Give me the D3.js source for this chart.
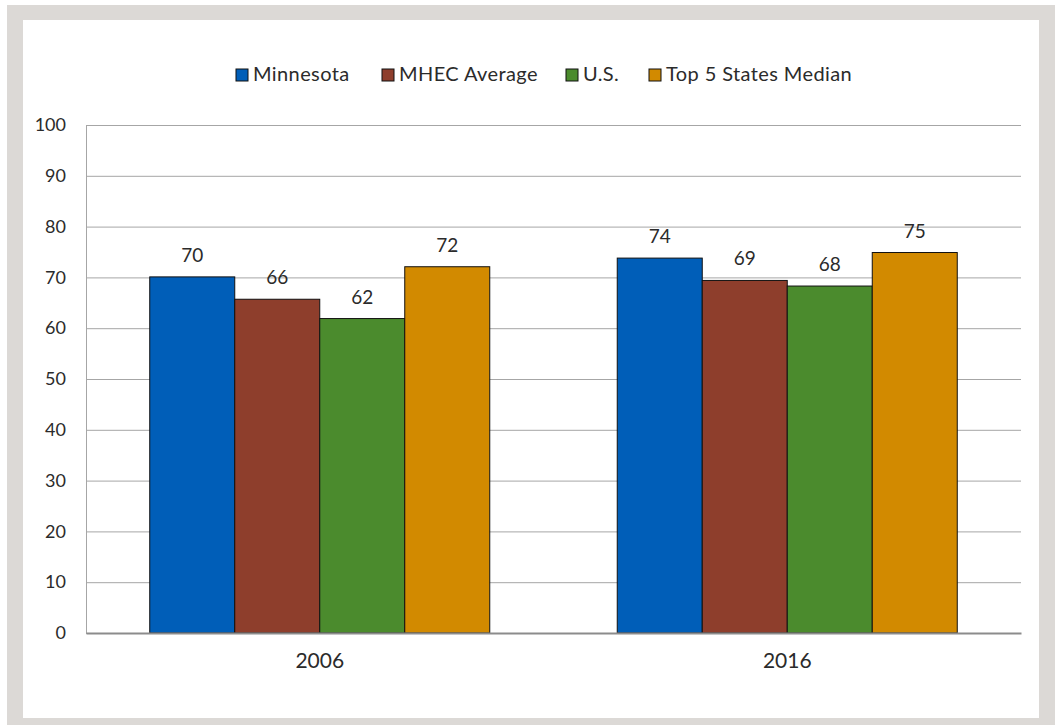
<!DOCTYPE html>
<html><head><meta charset="utf-8">
<script src="https://cdn.jsdelivr.net/npm/d3@7"></script>
<style>html,body{margin:0;padding:0;background:#fff;}svg{display:block;}</style>
</head><body>
<svg id="chart" width="1062" height="725"></svg>
<script>
const categories = ["2006", "2016"];
const seriesNames = ["Minnesota", "MHEC Average", "U.S.", "Top 5 States Median"];
const minnesota = [70.1, 73.8];
const mhecAverage = [65.7, 69.4];
const us = [61.9, 68.3];
const top5Median = [72.1, 74.9];
const valueLabels = [["70", "74"], ["66", "69"], ["62", "68"], ["72", "75"]];
const yTicks = [0, 10, 20, 30, 40, 50, 60, 70, 80, 90, 100];
const colors = ["#005EB8", "#8E3E2C", "#4B8B2D", "#D28A00"];

(function () {
const seriesValues = [minnesota, mhecAverage, us, top5Median];
const svg = d3.select("#chart");
const font = "Lato, 'Open Sans', sans-serif";
const textColor = "#2b2b2b";

// frame
svg.append("rect").attr("x", 7).attr("y", 5).attr("width", 1048).attr("height", 720).attr("fill", "#dcd9d6");
svg.append("rect").attr("x", 23).attr("y", 20).attr("width", 1016).attr("height", 698).attr("fill", "#fff");

const pLeft = 86, pRight = 1021, pTop = 125, pBottom = 633;
const y = d3.scaleLinear().domain([0, 100]).range([pBottom, pTop]);
const x0 = d3.scaleBand().domain(categories).range([pLeft, pRight]).padding(0);
const gap = x0.bandwidth() * 0.2727;
const x1 = d3.scaleBand().domain(seriesNames).range([gap / 2, x0.bandwidth() - gap / 2]).padding(0);

// gridlines
const grid = svg.append("g").attr("transform", `translate(${pLeft},0)`)
  .call(d3.axisLeft(y).tickValues(yTicks).tickSize(-(pRight - pLeft)).tickFormat(""));
grid.select(".domain").remove();
grid.selectAll(".tick line").attr("stroke", "#a6a6a6").attr("stroke-width", 1);

// left axis line
svg.append("line").attr("x1", pLeft + 0.5).attr("x2", pLeft + 0.5).attr("y1", pTop).attr("y2", pBottom)
  .attr("stroke", "#a6a6a6").attr("stroke-width", 1);

// y tick labels
const yAxis = svg.append("g").attr("transform", `translate(${pLeft},0)`)
  .call(d3.axisLeft(y).tickValues(yTicks).tickSize(0).tickPadding(20));
yAxis.select(".domain").remove();
yAxis.selectAll("text").attr("font-family", font).attr("font-size", 18).attr("fill", textColor);

// bars
const groups = svg.append("g").selectAll("g").data(categories).join("g")
  .attr("transform", d => `translate(${x0(d)},0)`);
seriesNames.forEach((name, si) => {
  groups.append("rect")
    .attr("x", x1(name))
    .attr("width", x1.bandwidth())
    .attr("y", (d, ci) => y(seriesValues[si][ci]))
    .attr("height", (d, ci) => y(0) - y(seriesValues[si][ci]))
    .attr("fill", colors[si])
    .attr("stroke", "#111").attr("stroke-width", 1);
  groups.append("text")
    .attr("x", x1(name) + x1.bandwidth() / 2)
    .attr("y", (d, ci) => y(seriesValues[si][ci]) - 15)
    .attr("text-anchor", "middle")
    .attr("font-family", font).attr("font-size", 19).attr("fill", textColor)
    .text((d, ci) => valueLabels[si][ci]);
});

// x axis
const xAxis = svg.append("g").attr("transform", `translate(0,${pBottom})`)
  .call(d3.axisBottom(x0).tickSize(0).tickPadding(20));
xAxis.select(".domain").attr("stroke", "#8c8c8c").attr("stroke-width", 2);
xAxis.selectAll("text").attr("font-family", font).attr("font-size", 21).attr("fill", textColor);

// legend
const legendX = [236, 382, 566, 649];
const legend = svg.append("g");
seriesNames.forEach((name, i) => {
  legend.append("rect").attr("x", legendX[i]).attr("y", 69).attr("width", 12).attr("height", 12)
    .attr("fill", colors[i]).attr("stroke", "#111").attr("stroke-width", 1);
  legend.append("text").attr("x", legendX[i] + 17).attr("y", 81)
    .attr("font-family", font).attr("font-size", 20).attr("letter-spacing", 0.4)
    .attr("fill", textColor).text(name);
});
})();
</script>
</body></html>
